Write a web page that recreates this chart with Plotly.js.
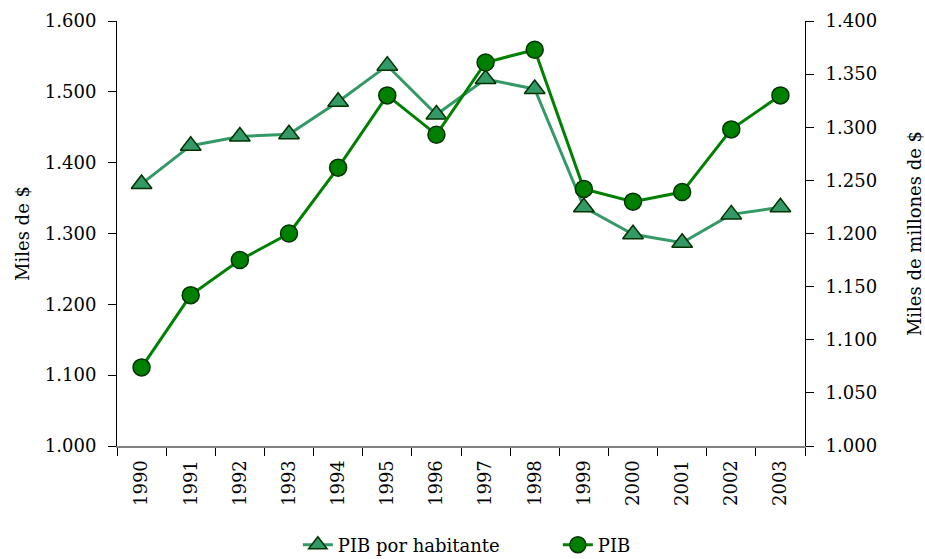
<!DOCTYPE html>
<html>
<head>
<meta charset="utf-8">
<script src="https://cdn.plot.ly/plotly-3.0.1.min.js"></script>
<style>html,body{margin:0;padding:0;background:#fff}#chart{width:925px;height:559px}</style>
</head>
<body>
<div id="chart"></div>
<script>
var years = ["1990","1991","1992","1993","1994","1995","1996","1997","1998","1999","2000","2001","2002","2003"];
var pibPorHabitante = [1370, 1424, 1437, 1440, 1486, 1537, 1468, 1518, 1504, 1337, 1299, 1287, 1327, 1337];
var pib = [1074, 1142, 1175, 1200, 1262, 1330, 1293, 1361, 1373, 1242, 1230, 1239, 1298, 1330];
var leftTicks = [1000, 1100, 1200, 1300, 1400, 1500, 1600];
var leftTickText = ["1.000","1.100","1.200","1.300","1.400","1.500","1.600"];
var rightTicks = [1000, 1050, 1100, 1150, 1200, 1250, 1300, 1350, 1400];
var rightTickText = ["1.000","1.050","1.100","1.150","1.200","1.250","1.300","1.350","1.400"];

var font = "DejaVu Serif, serif";
var traces = [
  {
    x: years, y: pibPorHabitante, name: "PIB por habitante", type: "scatter", mode: "lines+markers",
    yaxis: "y",
    line: {color: "#339966", width: 3},
    marker: {symbol: "triangle-up", size: 18, color: "#339966", line: {color: "#003300", width: 1.5}}
  },
  {
    x: years, y: pib, name: "PIB", type: "scatter", mode: "lines+markers",
    yaxis: "y2",
    line: {color: "#008000", width: 3},
    marker: {symbol: "circle", size: 17, color: "#008000", line: {color: "#003300", width: 1.5}}
  }
];

var layout = {
  width: 925, height: 559,
  margin: {l: 117, r: 120, t: 21, b: 113, autoexpand: false},
  paper_bgcolor: "#fff", plot_bgcolor: "#fff",
  font: {family: font, size: 17, color: "#000"},
  showlegend: true,
  hovermode: false,
  legend: {orientation: "h", x: 0.322, xanchor: "left", xref: "container", y: 0.025, yanchor: "middle", yref: "container",
           entrywidth: 215, font: {family: font, size: 18}, tracegroupgap: 0, bgcolor: "rgba(0,0,0,0)"},
  xaxis: {
    type: "category", showgrid: false, zeroline: false, automargin: false,
    showline: true, linecolor: "#808080", linewidth: 2,
    ticks: "outside", tickson: "boundaries", ticklen: 8, tickcolor: "#000", tickwidth: 1,
    tickangle: -90, tickfont: {family: font, size: 18}, ticklabelstandoff: 5,
    range: [-0.5, 13.5]
  },
  yaxis: {
    range: [1000, 1600], tickvals: leftTicks, ticktext: leftTickText, automargin: false,
    showgrid: false, zeroline: false, showline: true, linecolor: "#000", linewidth: 1,
    ticks: "outside", ticklen: 8, tickcolor: "#000", ticklabelstandoff: 8,
    tickfont: {family: font, size: 18},
    title: {text: "Miles de $", font: {family: font, size: 18}, standoff: 10}
  },
  yaxis2: {
    range: [1000, 1400], tickvals: rightTicks, ticktext: rightTickText, automargin: false,
    overlaying: "y", side: "right", anchor: "x",
    showgrid: false, zeroline: false, showline: true, linecolor: "#000", linewidth: 1,
    ticks: "outside", ticklen: 8, tickcolor: "#000", ticklabelstandoff: 8,
    tickfont: {family: font, size: 18},
    title: {text: "Miles de millones de $", font: {family: font, size: 18}, standoff: 38}
  },
  yaxis3: {
    range: [1000, 1600], tickvals: leftTicks, overlaying: "y", side: "left", anchor: "x", automargin: false,
    showgrid: false, zeroline: false, showline: false, showticklabels: false,
    ticks: "inside", ticklen: 8, tickcolor: "#000"
  },
  yaxis4: {
    range: [1000, 1400], tickvals: rightTicks, overlaying: "y", side: "right", anchor: "x", automargin: false,
    showgrid: false, zeroline: false, showline: false, showticklabels: false,
    ticks: "inside", ticklen: 8, tickcolor: "#000"
  }
};

Plotly.newPlot("chart", traces, layout, {displayModeBar: false, staticPlot: true});
</script>
</body>
</html>
